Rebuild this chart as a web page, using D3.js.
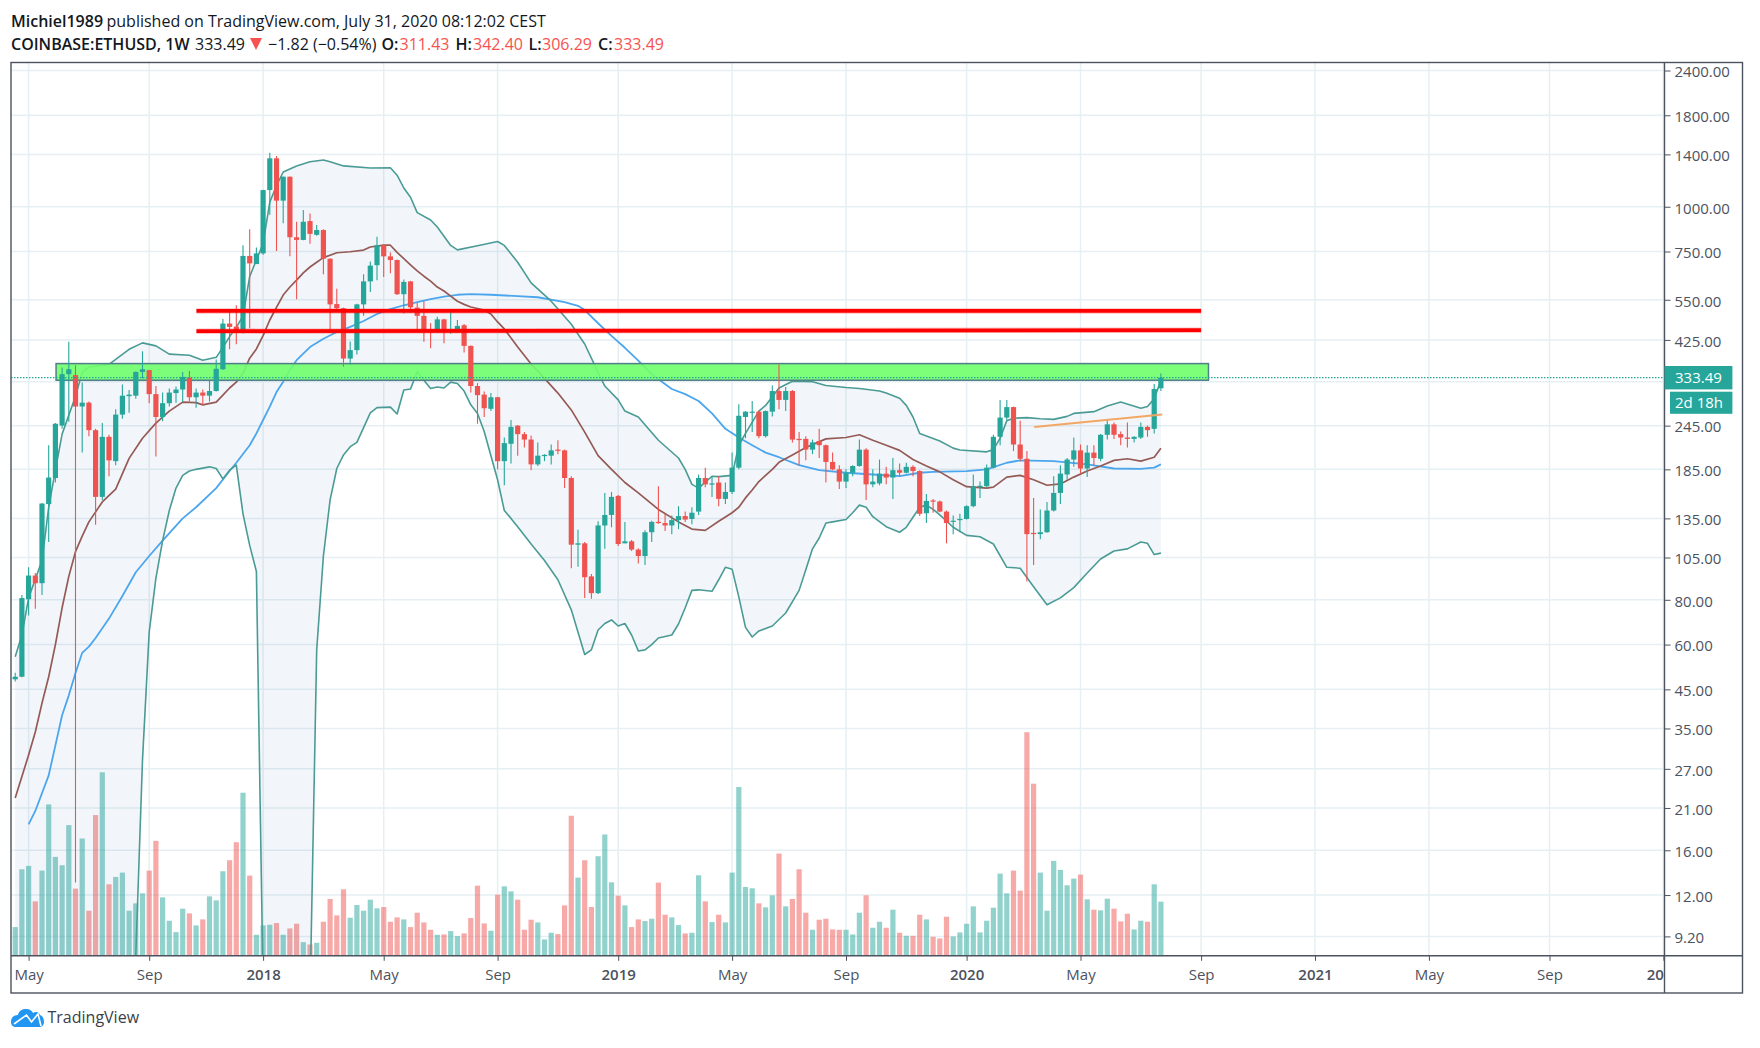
<!DOCTYPE html>
<html>
<head>
<meta charset="utf-8">
<title>COINBASE:ETHUSD, 1W</title>
<script src="https://d3js.org/d3.v7.min.js"></script>
<style>
    html, body { margin: 0; padding: 0; background: #fff; }
    svg { display: block; font-family: "Open Sans", sans-serif; }
    .tick text { font-family: "Open Sans", sans-serif; }
</style>
</head>
<body>
<div id="chart"></div>
<script>
// weekly candles, first bar is the week of 2017-04-17
var firstWeek = "2017-04-17";

var opens = [48,48.8,80.3,93.5,89,148,175,245,341,339,
    277,284,238,155,228,195,263,296,297,346,
    350,300,259,283,302,309,334,294,303,297,
    306,352,472,463,445,729,692,741,1113,1365,
    1040,1213,822,808,912,835,861,716,535,521,
    377,398,534,619,687,781,727,710,570,619,
    523,496,453,447,485,447,451,467,409,316,
    299,273,294,195,218,245,232,224,191,202,
    202,210,209,175,114,115,93,83.5,129,138,
    156,115,116.5,110.5,106,123.5,132,131,129,133.5,
    137,134.5,141,175,168,170,153,160,187,259,
    267,268,229,268,306,289,306,225,225,210,
    222,216,194,185,171,181,189,210,168,169,
    180,175.5,184,181,188,183,139.5,151.5,150.5,141,
    132.3,133.5,134.5,146,165,166,187,228,258,276,
    217,198,123,122,123.5,142,159,179,197,209,
    186,206,198,231,247,232,227,225,227,243,
    240,311.43];
var highs = [50.1,82.5,98.6,95,149,216,249,356,420,361,
    323,286,240,249,231,272,319,308,347,395,
    351,316,303,311,315,346,348,311,309,327,
    375,486,515,531,781,865,770,1115,1415,1385,
    1215,1215,908,979,957,890,865,718,590,523,
    421,536,648,703,825,783,745,712,627,621,
    539,545,474,493,487,512,483,471,410,322,
    305,302,295,227,254,246,235,230,220,204,
    217,223,210,177,125.5,116,94.5,132.5,159,160,
    157,132,117.5,111.5,125,133,166,139,137.5,146,
    141,145,179,187,177,177,170,206,281,269,
    287,270,270,317,363,314,308,235,229,224,
    240,217,206,190,185,190,224,212,185,197,
    188,199,192,193,190,184,158,153,151.5,142,
    137.5,139,147,179,171,191,231,289,289,277,
    253,208,154,143,150,177,190,199,227,217,
    216,216,232,254,250,236,250,229,250,245,
    320,342.40];
var lows = [47.3,48.6,72.3,75.5,82.5,116,170,240,251,13,
    206,229,129.5,152,177,190,256,266,291,332,
    283,201,252,277,284,285,286,275,280,286,
    305,350,400,413,443,458,692,735,950,753,
    900,728,552,806,788,830,648,448,510,358,
    363,387,496,578,624,637,652,567,504,506,
    448,420,403,445,416,442,445,392,303,248,
    259,269,185,167,192,202,213,184,189,195,
    191,204,164,98,99,81,80.5,83,111,127.5,
    113,115,109.5,101,100,116,130.5,124.5,122,126,
    132,130,138,165,155,146,148,158,185,226,
    235,226,227,260,272,269,220,190,196,204,
    199,170,184,163,164,177,188,152,165,167,
    168,153,177,180,177,137,131,140,140.5,115,
    122,123.5,134,145,154,165,186,216,254,208,
    195,90,100,118,123,141,148,173,188,180,
    176,190,195,224,225,216,213,220,225,228,
    233,306.29];
var closes = [48.8,80.9,93.5,89,148.5,175.5,248,341,352,277,
    284,238,155,228,196,263,297,299,346,352,
    300,259,283,303,309,335,294,303,297,306,
    353,472,462,445,729,695,741,1113,1365,1040,
    1213,822,808,908,840,861,716,534,521,377,
    398,534,619,685,781,727,710,570,617,524,
    496,453,448,485,447,453,465,409,316,298,
    274,294,195,219,243,232,224,191,202,203,
    209,209,175,114,115,92.5,83.5,129,138,155,
    114.5,116.5,110.5,106,123.5,132,131,129,133.5,137,
    134,140,175,168,169,153,160,187,261,268,
    268,229,269,306,289,306,224,224,210,220,
    216,194,185,171,181,189,210,168,171,180,
    175.5,184,181,188,183,139,151,150.5,141,131,
    133,134.5,146,166,166.5,187,228,258,276,217,
    198,122,122,123.5,142,159,180,197,209,186,
    206,199,231,247,231,227,225,228,243,238,
    310,333.49];
var volumes = [85,258,268,162,254,452,295,270,390,200,
    350,134,420,548,213,235,248,134,156,186,
    254,343,174,104,70,140,126,90,108,177,
    165,252,285,339,487,239,62,90,92,97,
    62,81,95,40,33,38,101,169,120,198,
    113,151,134,167,141,145,101,114,108,85,
    128,99,77,62,63,73,58,66,112,209,
    96,74,182,207,192,167,77,107,99,48,
    68,64,150,418,233,285,145,297,362,219,
    179,150,85,108,103,110,218,122,114,91,
    66,68,240,162,100,122,99,248,504,205,
    201,156,144,180,305,147,169,258,128,77,
    107,110,78,77,77,63,128,180,83,101,
    83,137,68,59,59,122,108,56,51,116,
    57,69,95,147,69,104,143,245,186,254,
    194,668,514,248,134,283,256,210,230,242,
    168,137,135,170,140,102,125,78,104,101,
    213,161];

// bollinger upper band, read at these bars
var upperWeeks = [0,1,2,4,5,6,7,9,10,11,14,17,19,21,23,26,28,30,31,32,33,34,35,37,38,39,40,42,44,46,47,49,53,56,57,58,59,60,62,63,65,66,69,72,73,75,77,80,83,85,87,88,90,91,93,96,99,100,101,102,104,105,107,108,109,111,112,114,116,119,121,124,126,129,130,132,133,134,135,138,140,141,145,146,147,148,149,151,153,155,157,158,161,163,165,168,169,170,171];
var upperBand = [55.5,63.8,81,103,145,184,232,296,345,357,363,400,417,409,388,385,373,380,405,434,461,495,639,790,1030,1145,1250,1300,1335,1350,1335,1300,1283,1285,1225,1128,1063,963,918,878,780,758,778,800,780,700,613,545,470,414,345,316,289,269,259,223,199,185,168,164,177,176.5,178,216,233,269,279,312,326,325,317,313,311,306,302,292,279,259,233,222,212,209.5,207,210,226,253,257,258,256,255,260,265,268,278,285,274,277,291,328];

// lower band, it leaves the bottom of the chart twice
var lowerWeeks = [0,17,18,19,20,21,22,23,24,25,26,27,29,30,31,32,33,34,35,36,37,38,43,44,45,46,47,48,49,50,51,53,54,56,57,58,59,60,61,62,63,64,65,66,67,68,69,70,71,72,73,74,75,77,79,81,83,85,86,87,88,89,90,91,92,93,94,95,96,98,99,100,101,102,104,105,106,107,108,109,110,111,113,115,117,118,119,120,121,122,124,125,126,127,128,130,132,133,134,135,136,137,138,140,142,144,146,148,150,152,154,156,158,160,162,164,166,168,169,170,171];
var lowerBand = [3,4,8.16,28.6,65,92,117,142,164,178,183,185,188,186,174,184,190,139,113.5,96,6.7,4,4,6.1,58,106,152,186,203,214,220,266,275,276,264,308,310,346,328,311,314,312,324,321,306,280,265,236,202,173,142,135,128,114.5,103,91,75,56.3,58,65.9,68.7,70.3,67.6,68.7,63.8,57.6,58,60,62.6,63.8,68.5,76,85,85.3,84.5,91,98.6,97.4,81.5,67,63,65.5,67.6,73.5,85,97,111,119,131,132,134,140,147,145,136.5,128,123.5,127.5,136,145,147,143,138,127.5,121,120,114.5,98.6,98,87,77.5,81,86.5,95,104,109.5,111,116,115,107,108];

// bollinger basis (brown)
var basisWeeks = [0,2,3,4,5,6,7,8,9,10,11,13,15,17,19,21,23,25,27,28,30,31,32,33,34,35,36,37,38,39,40,41,42,43,44,45,46,48,50,52,53,55,56,57,58,59,60,61,62,63,64,65,66,67,68,70,71,72,73,75,77,79,81,83,85,87,89,91,93,96,99,101,103,105,107,108,109,110,111,112,113,114,116,118,121,124,126,128,130,132,134,136,138,140,142,145,146,148,150,152,154,156,158,160,162,164,166,168,170,171];
var basisLine = [22.4,29.5,34.2,41.2,48.8,60,76,93,109,120.5,132,150,163,198.5,226,249,269,285,284,280,285,298,312,324,343,378,401,437,483,524,567,597,624,654,679,700,721,744,749,757,772,781,781,746,716,688,662,640,620,597,582,563,545,534,525,515,502,477,456,406,364,332,302,271,235,202,185,170,159,143,132,126,125,132.5,140,145,154,162,171,178,185,193.5,203,213,225,227,231,223,216,209,197,189,182,173,165.5,164,165,176,178,173,167,168.5,176,183,189,196,198,195,200,212];

// 50 week average (blue)
var averageWeeks = [2,3,5,6,7,8,9,10,11,12,14,16,18,20,22,25,27,30,32,33,35,36,37,38,39,40,41,42,44,46,48,50,52,54,56,58,60,62,64,66,68,71,75,78,82,84,85,87,89,91,93,95,96,98,100,102,104,106,108,110,112,114,117,120,124,128,132,135,137,142,145,148,150,155,160,164,168,170,171];
var averageLine = [18.9,20.6,25.9,31.4,38.1,43.3,50,56.9,59.2,62.6,70.9,82,95.5,106,117,135,145,164,183,193,216,233,254,277,304,325,350,373,406,428,447,462,480,502,518,531,542,552,561,568,570,568,563,559,542,529,515,473,436,404,372,341,330,310,300,287,265,240,227,216,206,200,190,184,181,179,177,181,182,183,185,193,196,195,191,186,185.5,187,191];

var priceTicks = [2400,1800,1400,1000,750,550,425,245,185,135,105,80,60,45,35,27,21,16,12,9.2];
var hiddenPriceTick = 325; // grid line only, label sits under the price badge
var timeTicks = ["2017-05-01","2017-09-04","2018-01-01","2018-05-07","2018-09-03","2019-01-07","2019-05-06","2019-09-02","2020-01-06","2020-05-04","2020-09-07","2021-01-04","2021-05-03","2021-09-06","2022-01-03"];
var timeLabels = ["May","Sep","2018","May","Sep","2019","May","Sep","2020","May","Sep","2021","May","Sep","2022"];

// drawings: green zone, red levels, orange trend line (week index, price)
var zoneWeeks = [6.1,178.1], zonePrices = [365,328];
var levelWeeks = [27.05,177], upperLevel = [512,512], lowerLevel = [449.5,452.5];
var trendWeeks = [152.1,171.2], trendPrices = [243,263];
var lastPrice = 333.49;

var width = 1760, height = 1048;
var plotLeft = 11, plotTop = 62.5, plotRight = 1664.5, plotBottom = 955.8, frameRight = 1742.5, frameBottom = 993;
var tickColor = "#4c525e", textColor = "#131722", upColor = "#26a69a", downColor = "#ef5350", gridColor = "#e6eff3";

var parseDay = d3.utcParse("%Y-%m-%d");
var weekMs = 7 * 24 * 3600 * 1000;
var startTime = parseDay(firstWeek);

var x = d3.scaleUtc().domain([startTime, parseDay("2022-01-03")]).range([15.2, 1663.4]);
var y = d3.scaleLog().domain([9.2, 2400]).range([936.4, 70.5]);
var yVolume = d3.scaleLinear().domain([0, 668]).range([955.5, 732.2]);

function xw(week) {
    return x(new Date(startTime.getTime() + week * weekMs));
}

var svg = d3.select("#chart").append("svg").attr("width", width).attr("height", height);

svg.append("defs").append("clipPath").attr("id", "plotClip").append("rect")
    .attr("x", plotLeft).attr("y", plotTop).attr("width", plotRight - plotLeft).attr("height", plotBottom - plotTop);
svg.select("defs").append("clipPath").attr("id", "timeClip").append("rect")
    .attr("x", plotLeft).attr("y", plotBottom).attr("width", plotRight - plotLeft).attr("height", frameBottom - plotBottom);

var plot = svg.append("g").attr("clip-path", "url(#plotClip)");

// grid
plot.selectAll(".hgrid").data(priceTicks.concat([hiddenPriceTick])).enter().append("line")
    .attr("x1", plotLeft).attr("x2", plotRight)
    .attr("y1", function (d) { return y(d); }).attr("y2", function (d) { return y(d); })
    .attr("stroke", gridColor).attr("stroke-width", 1.5);
plot.selectAll(".vgrid").data(timeTicks).enter().append("line")
    .attr("y1", plotTop).attr("y2", plotBottom)
    .attr("x1", function (d) { return x(parseDay(d)); }).attr("x2", function (d) { return x(parseDay(d)); })
    .attr("stroke", gridColor).attr("stroke-width", 1.5);

// volume
plot.selectAll(".volume").data(volumes).enter().append("rect")
    .attr("x", function (d, i) { return xw(i) - 2.6; })
    .attr("width", 5.2)
    .attr("y", function (d) { return yVolume(d); })
    .attr("height", function (d) { return yVolume(0) - yVolume(d); })
    .attr("fill", function (d, i) { return closes[i] >= opens[i] ? upColor : downColor; })
    .attr("fill-opacity", 0.5);

// bollinger fill, then the lines
function seriesPoints(weeks, prices) {
    return weeks.map(function (w, i) { return [xw(w), y(prices[i])]; });
}
var upperPoints = seriesPoints(upperWeeks, upperBand);
var lowerPoints = seriesPoints(lowerWeeks, lowerBand);
var pathLine = d3.line();

plot.append("path")
    .attr("d", pathLine(upperPoints.concat(lowerPoints.slice().reverse())) + "Z")
    .attr("fill", "rgb(38,110,170)").attr("fill-opacity", 0.06);

function drawLine(points, color, lineWidth) {
    plot.append("path").attr("d", pathLine(points))
        .attr("fill", "none").attr("stroke", color).attr("stroke-width", lineWidth)
        .attr("stroke-linejoin", "round");
}
drawLine(seriesPoints(averageWeeks, averageLine), "#4ca6ee", 1.8);
drawLine(seriesPoints(basisWeeks, basisLine), "#955a55", 1.7);
drawLine(upperPoints, "#4a9b95", 1.6);
drawLine(lowerPoints, "#4a9b95", 1.6);

// green zone sits over the lines but under the candles
plot.append("rect")
    .attr("x", xw(zoneWeeks[0])).attr("width", xw(zoneWeeks[1]) - xw(zoneWeeks[0]))
    .attr("y", y(zonePrices[0])).attr("height", y(zonePrices[1]) - y(zonePrices[0]))
    .attr("fill", "rgb(112,255,108)").attr("fill-opacity", 0.9)
    .attr("stroke", "#4f7f86").attr("stroke-width", 1.5);

// candles
var candles = plot.selectAll(".candle").data(opens).enter().append("g");
candles.append("line")
    .attr("x1", function (d, i) { return xw(i); }).attr("x2", function (d, i) { return xw(i); })
    .attr("y1", function (d, i) { return y(highs[i]); }).attr("y2", function (d, i) { return y(lows[i]); })
    .attr("stroke", function (d, i) { return closes[i] >= opens[i] ? upColor : downColor; })
    .attr("stroke-width", 1.1);
candles.append("rect")
    .attr("x", function (d, i) { return xw(i) - 2.6; })
    .attr("width", 5.2)
    .attr("y", function (d, i) { return y(Math.max(opens[i], closes[i])); })
    .attr("height", function (d, i) { return Math.max(1.2, Math.abs(y(opens[i]) - y(closes[i]))); })
    .attr("fill", function (d, i) { return closes[i] >= opens[i] ? upColor : downColor; });

// red levels and trend line
function drawSegment(weeks, prices, color, lineWidth) {
    plot.append("line")
        .attr("x1", xw(weeks[0])).attr("x2", xw(weeks[1]))
        .attr("y1", y(prices[0])).attr("y2", y(prices[1]))
        .attr("stroke", color).attr("stroke-width", lineWidth);
}
drawSegment(levelWeeks, upperLevel, "rgba(255,0,0,0.25)", 5.5);
drawSegment(levelWeeks, upperLevel, "#ff0000", 3.8);
drawSegment(levelWeeks, lowerLevel, "rgba(255,0,0,0.25)", 5.5);
drawSegment(levelWeeks, lowerLevel, "#ff0000", 3.8);
drawSegment(trendWeeks, trendPrices, "#f3a765", 2);

// dotted last price line
plot.append("line")
    .attr("x1", plotLeft).attr("x2", plotRight)
    .attr("y1", y(lastPrice)).attr("y2", y(lastPrice))
    .attr("stroke", upColor).attr("stroke-width", 1.4).attr("stroke-dasharray", "1.5 1.5");

// axes
var priceAxis = d3.axisRight(y).tickValues(priceTicks).tickFormat(d3.format(".2f")).tickSize(6).tickPadding(4);
var priceG = svg.append("g").attr("transform", "translate(" + plotRight + ",0)").call(priceAxis);
priceG.select(".domain").remove();
priceG.selectAll("line").attr("stroke", tickColor);
priceG.selectAll("text").attr("fill", tickColor).attr("font-size", 15).attr("dy", "0.42em");

var timeAxis = d3.axisBottom(x).tickValues(timeTicks.map(parseDay))
    .tickFormat(function (d, i) { return timeLabels[i]; }).tickSize(5).tickPadding(9);
var timeG = svg.append("g").attr("clip-path", "url(#timeClip)")
    .append("g").attr("transform", "translate(0," + plotBottom + ")").call(timeAxis);
timeG.select(".domain").remove();
timeG.selectAll("line").attr("stroke", tickColor);
timeG.selectAll("text").attr("fill", tickColor).attr("font-size", 15)
    .attr("font-weight", function (d, i) { return /^\d/.test(timeLabels[i]) ? 600 : 400; });

// frame
var frame = svg.append("g").attr("stroke", tickColor).attr("stroke-width", 1.4).attr("fill", "none");
frame.append("rect").attr("x", plotLeft).attr("y", plotTop).attr("width", frameRight - plotLeft).attr("height", frameBottom - plotTop);
frame.append("line").attr("x1", plotRight).attr("x2", plotRight).attr("y1", plotTop).attr("y2", frameBottom);
frame.append("line").attr("x1", plotLeft).attr("x2", frameRight).attr("y1", plotBottom).attr("y2", plotBottom);

// price badges
svg.append("rect").attr("x", plotRight).attr("y", 366).attr("width", 67.9).attr("height", 23.4).attr("fill", upColor);
svg.append("rect").attr("x", 1670).attr("y", 391.7).attr("width", 62.4).attr("height", 22.1).attr("fill", upColor);
svg.append("text").attr("x", 1675).attr("y", 383).attr("fill", "#fff").attr("font-size", 15).text(d3.format(".2f")(lastPrice));
svg.append("text").attr("x", 1675).attr("y", 408).attr("fill", "#fff").attr("font-size", 15).text("2d 18h");

// header
function headerText(xPos, yPos, str, color, weight) {
    svg.append("text").attr("x", xPos).attr("y", yPos).attr("fill", color)
        .attr("font-size", 16).attr("font-weight", weight || 400).text(str);
}
headerText(11, 27, "Michiel1989", textColor, 600);
headerText(106.5, 27, "published on TradingView.com, July 31, 2020 08:12:02 CEST", textColor);
headerText(11, 49.5, "COINBASE:ETHUSD, 1W", textColor, 600);
headerText(195, 49.5, "333.49", textColor);
svg.append("path").attr("d", "M250,38 L262,38 L256,50 Z").attr("fill", "#f7524f");
headerText(268, 49.5, "\u22121.82 (\u22120.54%)", textColor);
headerText(381.5, 49.5, "O:", textColor, 600);
headerText(399.5, 49.5, "311.43", "#f7524f");
headerText(455.5, 49.5, "H:", textColor, 600);
headerText(473, 49.5, "342.40", "#f7524f");
headerText(528.5, 49.5, "L:", textColor, 600);
headerText(542, 49.5, "306.29", "#f7524f");
headerText(598, 49.5, "C:", textColor, 600);
headerText(614, 49.5, "333.49", "#f7524f");

// logo
svg.append("path")
    .attr("d", "M11,1022 C11,1017 14,1015 18,1015 C19,1010 23,1009 26,1009 C30,1009 32,1011 33,1013 C36,1011 39,1012 40,1015 C43,1016 44,1019 44,1022 C44,1025 42,1027 39,1027 L16,1027 C13,1027 11,1025 11,1022 Z")
    .attr("fill", "#2196f3");
svg.append("path").attr("d", "M14,1024 L26.5,1015 L31.5,1022 L38,1014 L41,1026")
    .attr("fill", "none").attr("stroke", "#fff").attr("stroke-width", 1.6);
svg.append("text").attr("x", 47.5).attr("y", 1022.5).attr("fill", "#3b3f4a").attr("font-size", 16).text("TradingView");
</script>
</body>
</html>
